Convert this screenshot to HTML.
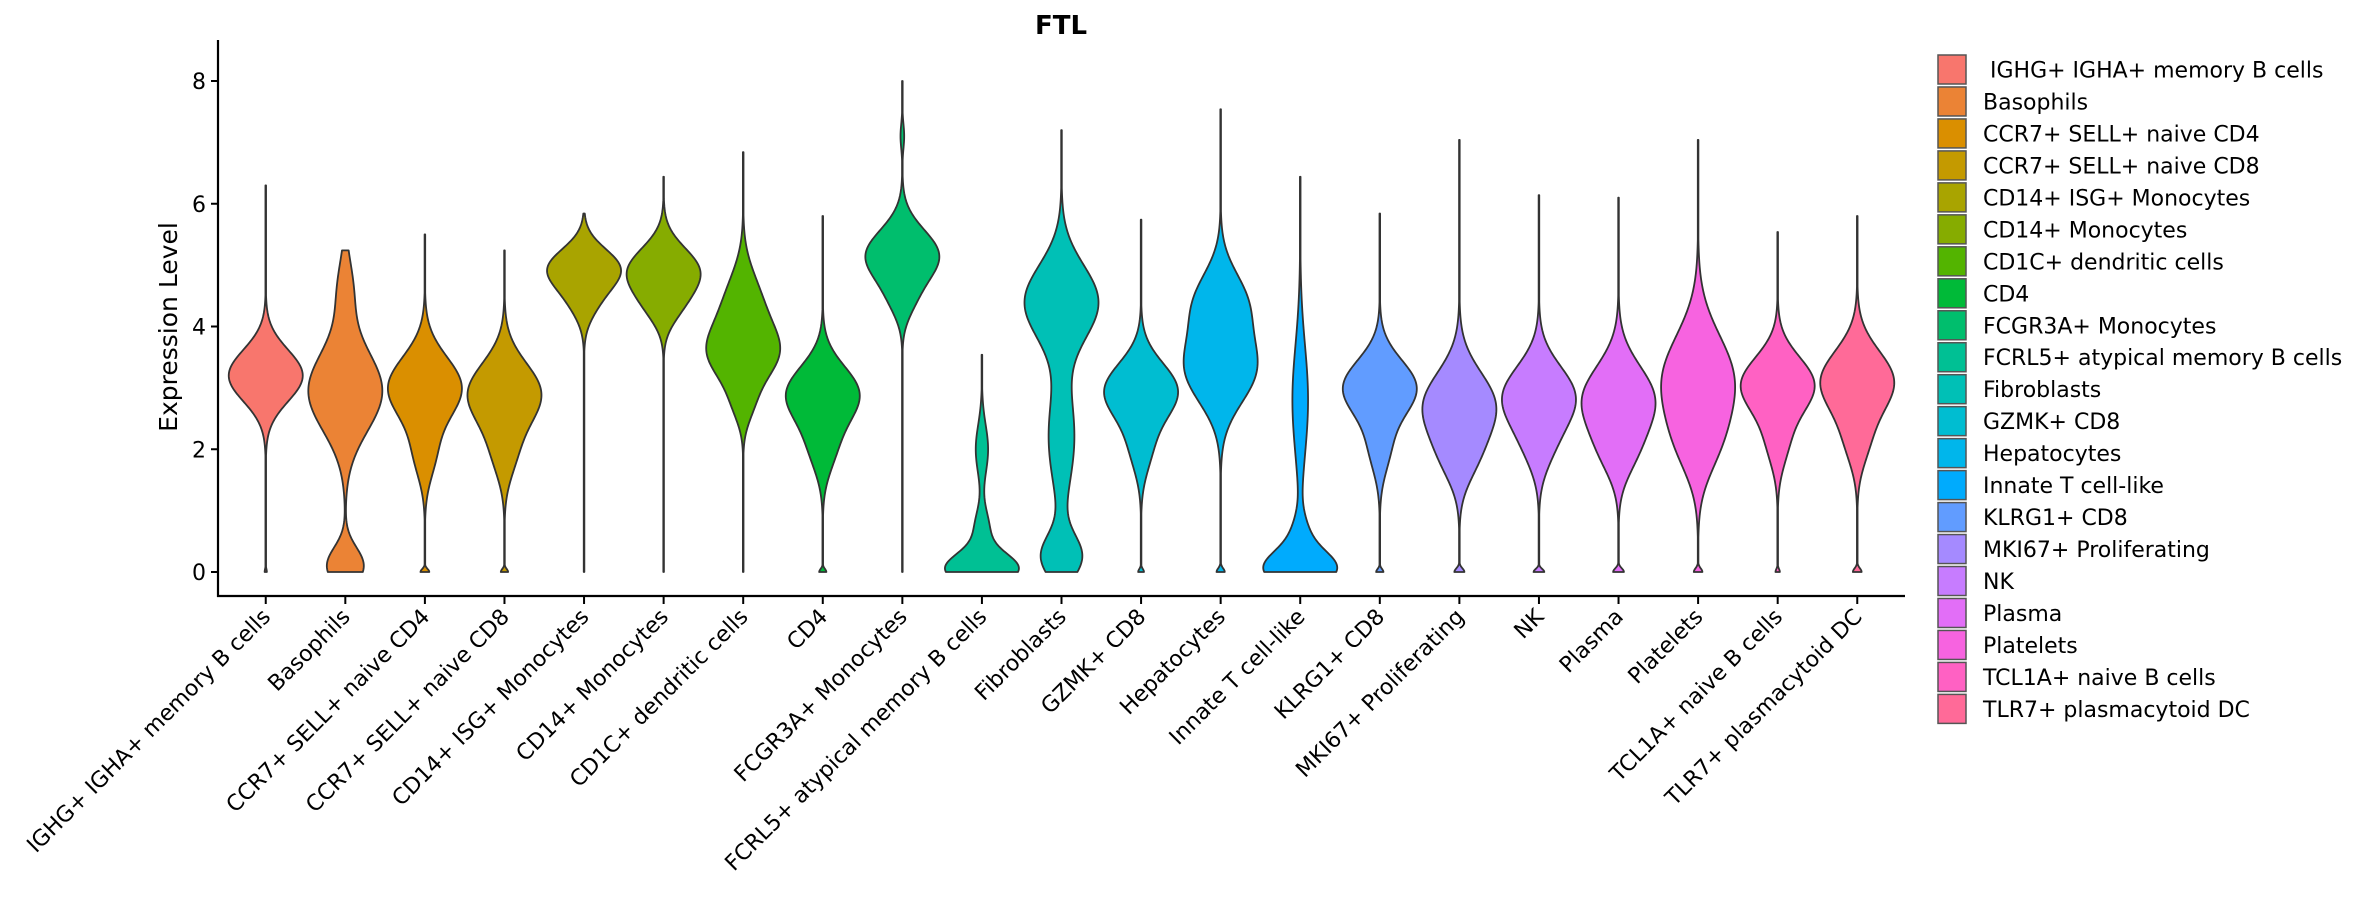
<!DOCTYPE html>
<html><head><meta charset="utf-8"><style>
html,body{margin:0;padding:0;background:#fff;}
svg{display:block;font-family:"DejaVu Sans","Liberation Sans",sans-serif;}
</style></head><body>
<svg id="chart" width="2362" height="900" viewBox="0 0 2362 900" xmlns="http://www.w3.org/2000/svg">
<text x="1061" y="34" font-size="26" font-weight="bold" text-anchor="middle">FTL</text>
<text transform="translate(177,327) rotate(-90)" font-size="25" text-anchor="middle">Expression Level</text>
<g id="plot"></g>
<g id="legend"></g>
</svg>
<script>
const categories = ["IGHG+ IGHA+ memory B cells","Basophils","CCR7+ SELL+ naive CD4","CCR7+ SELL+ naive CD8","CD14+ ISG+ Monocytes","CD14+ Monocytes","CD1C+ dendritic cells","CD4","FCGR3A+ Monocytes","FCRL5+ atypical memory B cells","Fibroblasts","GZMK+ CD8","Hepatocytes","Innate T cell-like","KLRG1+ CD8","MKI67+ Proliferating","NK","Plasma","Platelets","TCL1A+ naive B cells","TLR7+ plasmacytoid DC"];
const colors = ["#F8766D","#EB8335","#DA8F00","#C49A00","#A9A400","#86AC00","#53B400","#00BA38","#00BE6D","#00C094","#00C0B6","#00BDD1","#00B6EB","#00ABFD","#619CFF","#A58AFF","#C77CFF","#E26EF7","#F763E0","#FF61C3","#FF6A98"];
const maxValues = [6.3,5.25,5.5,5.25,5.85,6.45,6.85,5.8,8.0,3.55,7.2,5.75,7.55,6.45,5.85,7.05,6.15,6.1,7.05,5.55,5.8];
// modes: [center, sd, weight] per violin
const modes = [
 [[3.2,0.42,1],[0,0.05,0.03]],
 [[2.95,0.65,1],[0.1,0.3,0.5],[4.6,0.5,0.2]],
 [[3.0,0.5,1],[1.9,0.4,0.25],[0,0.05,0.12]],
 [[2.9,0.5,1],[1.9,0.4,0.25],[0,0.05,0.1]],
 [[4.95,0.32,1],[4.4,0.3,0.3]],
 [[4.9,0.38,1],[4.3,0.3,0.3]],
 [[3.55,0.45,1],[4.4,0.5,0.5],[2.7,0.3,0.2]],
 [[2.9,0.45,1],[2.0,0.4,0.3],[0,0.05,0.1]],
 [[5.15,0.42,1],[7.1,0.2,0.05],[4.4,0.3,0.2]],
 [[0.05,0.25,1],[2.0,0.4,0.17],[0.7,0.3,0.2]],
 [[4.4,0.6,1],[0.25,0.35,0.55],[2.2,0.8,0.35]],
 [[2.95,0.45,1],[2.0,0.4,0.25],[0,0.05,0.08]],
 [[3.3,0.55,1],[4.4,0.5,0.7],[0,0.06,0.12]],
 [[0.05,0.28,1],[2.8,0.9,0.22],[0.6,0.3,0.2]],
 [[3.0,0.45,1],[2.0,0.4,0.25],[0,0.05,0.1]],
 [[2.7,0.55,1],[1.8,0.4,0.3],[0,0.06,0.14]],
 [[2.85,0.5,1],[2.0,0.4,0.25],[0,0.05,0.15]],
 [[2.8,0.55,1],[1.9,0.4,0.3],[0,0.06,0.15]],
 [[3.1,0.75,1],[2.0,0.5,0.3],[0,0.06,0.12]],
 [[3.05,0.45,1],[2.1,0.4,0.25],[0,0.05,0.06]],
 [[3.1,0.5,1],[2.1,0.4,0.25],[0,0.06,0.12]]
];
const yTicks = [0,2,4,6,8];

const NS="http://www.w3.org/2000/svg";
const plot=document.getElementById('plot');
const x0=218,x1=1905,yTop=40,yBase=596;
const n=categories.length;
const step=(x1-x0)/(n-1+1.2);
function xScale(i){return x0+step*(0.6+i);}
function yScale(v){return 572-v*(572-81)/8;}
function mk(tag,attrs){const e=document.createElementNS(NS,tag);for(const k in attrs)e.setAttribute(k,attrs[k]);return e;}

const ya=mk('line',{x1:x0,y1:yTop,x2:x0,y2:yBase+1,stroke:'#000','stroke-width':2.2});


plot.appendChild(ya);
const xa=mk('line',{x1:x0-1,y1:yBase,x2:x1,y2:yBase,stroke:'#000','stroke-width':2.2});


plot.appendChild(xa);
yTicks.forEach(t=>{
  const y=yScale(t);
  const tk=mk('line',{x1:x0-7,y1:y,x2:x0,y2:y,stroke:'#000','stroke-width':2});
  
  
  plot.appendChild(tk);
  const tl=mk('text',{x:x0-12,y:y+8,'font-size':22,'text-anchor':'end'});
  tl.textContent=t;
  
  
  plot.appendChild(tl);
});

categories.forEach((c,i)=>{
  const cx=xScale(i);
  const mx=maxValues[i], md=modes[i];
  const pts=[];let peak=0;
  for(let v=0;v<=mx+1e-9;v+=0.02){
    let d=0;md.forEach(m=>{d+=m[2]*Math.exp(-((v-m[0])**2)/(2*m[1]*m[1]));});
    pts.push([v,d]);if(d>peak)peak=d;
  }
  const hw=37;
  const w=pts.map(p=>[p[0],Math.max(p[1]/peak*hw,0.3)]);
  let dstr='';
  w.forEach((p,k)=>{dstr+=(k?'L':'M')+(cx+p[1]).toFixed(2)+','+yScale(p[0]).toFixed(2);});
  for(let k=w.length-1;k>=0;k--){dstr+='L'+(cx-w[k][1]).toFixed(2)+','+yScale(w[k][0]).toFixed(2);}
  dstr+='Z';
  const path=mk('path',{d:dstr,fill:colors[i],stroke:'#333','stroke-width':1.8,'stroke-linejoin':'round'});
  
  
  plot.appendChild(path);
  const tk=mk('line',{x1:cx,y1:yBase,x2:cx,y2:yBase+8,stroke:'#000','stroke-width':2});
  
  
  plot.appendChild(tk);
  const lb=mk('text',{transform:`translate(${cx+6},${yBase+22}) rotate(-45)`,'font-size':22,'text-anchor':'end'});
  lb.textContent=c;
  
  
  plot.appendChild(lb);
});

const lg=document.getElementById('legend');
categories.forEach((c,i)=>{
  const y=69.5+i*31.97;
  const r=mk('rect',{x:1938,y:y-14.5,width:28,height:29,fill:colors[i],stroke:'#555','stroke-width':1.5});
  
  
  lg.appendChild(r);
  const t=mk('text',{x:i===0?1990:1983,y:y+8,'font-size':22});
  t.textContent=c;
  
  
  lg.appendChild(t);
});
</script>
</body></html>
